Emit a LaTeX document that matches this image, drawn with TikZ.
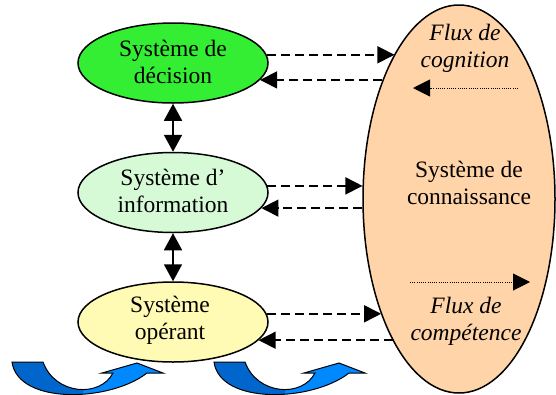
\documentclass[tikz,border=0pt]{standalone}
\usepackage{fontspec}
\setmainfont{Liberation Serif}
\usetikzlibrary{shapes.geometric,arrows.meta}
\definecolor{decgreen}{RGB}{51,238,51}
\definecolor{infgreen}{RGB}{214,250,214}
\definecolor{opeyellow}{RGB}{255,250,180}
\definecolor{conpeach}{RGB}{255,212,168}
\definecolor{bluedark}{RGB}{0,102,204}
\definecolor{bluelight}{RGB}{0,136,255}
\def\uarrowpath{(12,362) .. controls (18,405) and (110,402) .. (147,373) -- (163,373) -- (137,363) -- (102,373) -- (113,373) .. controls (100,398) and (55,395) .. (43,362) -- cycle}
\begin{document}
\begin{tikzpicture}[x=1pt,y=-1pt,
  sysshape/.style={ellipse,draw,line width=1.5pt,minimum width=190pt,minimum height=80pt,inner sep=0pt},
  systext/.style={align=center,inner sep=0pt,font=\fontsize{23.5}{27}\selectfont},
  fluxtext/.style={align=center,inner sep=0pt,font=\fontsize{23.5}{27}\selectfont\itshape},
  dasharr/.style={line width=1.6pt,dash pattern=on 9pt off 5pt,-{Triangle[length=17pt,width=17pt]}},
  dotarr/.style={line width=1pt,dash pattern=on 1pt off 1.2pt,-{Triangle[length=17pt,width=17pt]}},
  dblarr/.style={line width=1.8pt,{Triangle[length=17pt,width=18pt]}-{Triangle[length=17pt,width=18pt]}},
  uarrowline/.style={draw=black,line width=1pt}]
\useasboundingbox (0,0) rectangle (556,394);
\clip (0,0) rectangle (556,394);
% knowledge system
\node[ellipse,draw,line width=1.5pt,fill=conpeach,minimum width=192pt,minimum height=388pt,inner sep=0pt] (con) at (459,199) {};
\node[systext] (cont) at (469,183) {Système de\\connaissance};
\node[fluxtext] (fcog) at (465,48) {Flux de\\cognition};
\node[fluxtext] (fcomp) at (466,321) {Flux de\\compétence};
% three systems
\node[sysshape,fill=decgreen] (dec) at (173,63) {};
\node[sysshape,fill=infgreen] (inf) at (173,192.5) {};
\node[sysshape,fill=opeyellow] (ope) at (173,322) {};
\node[systext] (dect) at (173,62) {Système de\\décision};
\node[systext] (inft) at (173,191) {Système d’\\information};
\node[systext] (opet) at (170,320) {Système\\opérant};
% vertical links
\draw[dblarr] (dec.south) -- (inf.north);
\draw[dblarr] (inf.south) -- (ope.north);
% dashed exchanges
\draw[dasharr] (dec.5) -- (dec.5 -| con.114);
\draw[dasharr] (dec.-11 -| con.123) -- (dec.-11);
\draw[dasharr] (inf.4) -- (inf.4 -| con.172);
\draw[dasharr] (inf.-10 -| con.185) -- (inf.-10);
\draw[dasharr] (ope.5.5) -- (ope.5.5 -| con.236);
\draw[dasharr] (ope.-12 -| con.245) -- (ope.-12);
% dotted flows
\coordinate (cogs) at (518,88);
\coordinate (coge) at (413,88);
\coordinate (comps) at (410,282);
\coordinate (compe) at (530,282);
\draw[dotarr] (cogs) -- (coge);
\draw[dotarr] (comps) -- (compe);
% blue curved arrows
\foreach \dx in {0,202}{
  \begin{scope}[xshift=\dx pt]
    \fill[bluelight] \uarrowpath;
    \begin{scope}
      \clip (0,340) rectangle (83,400);
      \fill[bluedark] \uarrowpath;
    \end{scope}
    \draw[uarrowline] \uarrowpath;
  \end{scope}
}
\end{tikzpicture}
\end{document}
